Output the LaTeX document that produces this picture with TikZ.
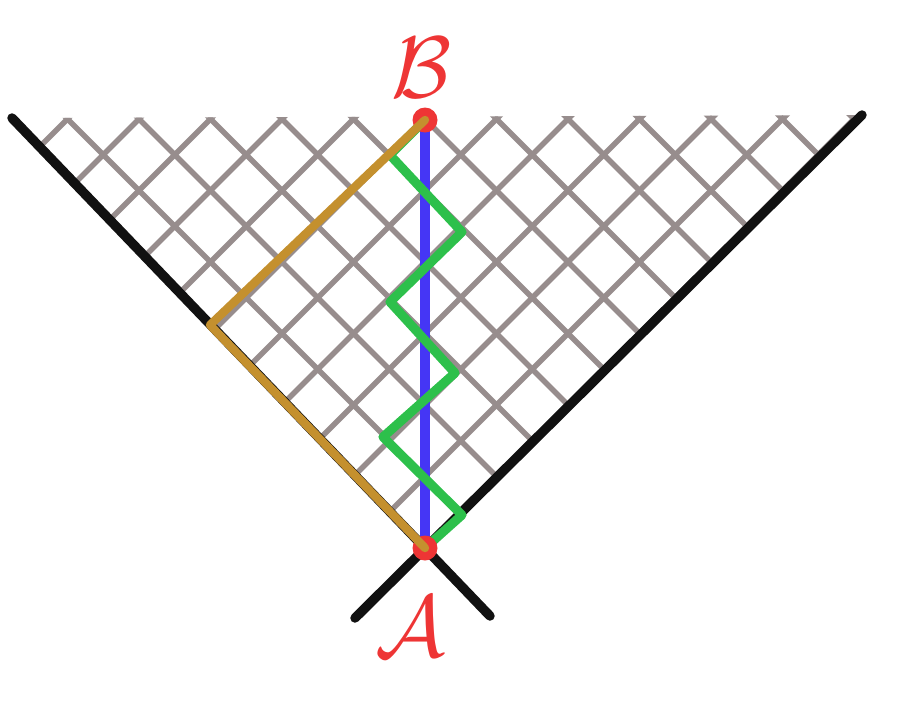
\documentclass[tikz,border=0pt]{standalone}
\definecolor{stone}{HTML}{978D8D}
\definecolor{ink}{HTML}{111111}
\definecolor{iris}{HTML}{4536F5}
\definecolor{leaf}{HTML}{2DC04B}
\definecolor{ochre}{HTML}{C4902E}
\definecolor{scarlet}{HTML}{EE3535}
\usepackage{tikz}

\begin{document}
\begin{tikzpicture}[scale=1.0,
    gridline/.style={stone,line width=1.6pt},
    coneline/.style={ink,line width=2.7pt,line cap=round},
    worldline/.style={line width=2.6pt,line cap=round,line join=round},
    event/.style={circle,fill=scarlet,inner sep=0pt,minimum size=0.25cm},
    tag/.style={scarlet,font=\fontsize{29}{31}\selectfont}]
        \useasboundingbox (0,0) rectangle (9,7);
        \coordinate (A) at (4.25,1.52);
        \coordinate (B) at (4.25,5.80);
        \coordinate (tl) at (0.12,5.82);
        \coordinate (tr) at (8.62,5.85);
        \coordinate (bl) at (3.55,0.82);
        \coordinate (br) at (4.90,0.84);
        \coordinate (turn) at (2.10,3.75);
        % light-like grid inside the cone
        \begin{scope}
          \clip (A) -- (tl) -- (tr) -- cycle;
          \foreach \k [evaluate=\k as \x using 4.25+\k*0.715] in {-13,...,13} {
            \draw[gridline] (\x-5,-3.48) -- (\x+5,6.52);
            \draw[gridline] (\x+5,-3.48) -- (\x-5,6.52);
          }
        \end{scope}
        \draw[coneline] (tl) -- (br);
        \draw[coneline] (tr) -- (bl);
        \draw[worldline,iris] (A) -- (B);
        \draw[worldline,leaf] (A) -- (4.62,1.85) coordinate (z1) -- (3.83,2.63) coordinate (z2)
          -- (4.55,3.27) coordinate (z3) -- (3.90,3.98) coordinate (z4)
          -- (4.62,4.68) coordinate (z5) -- (3.90,5.45) coordinate (z6) -- (B);
        \node[event] (eA) at (A) {};
        \node[event] (eB) at (B) {};
        \draw[worldline,ochre,line width=2.4pt] (A) -- (turn) -- (B);
        \node[tag] (labA) at (4.10,0.73) {$\mathcal{A}$};
        \node[tag] (labB) at (4.22,6.32) {$\mathcal{B}$};
      \end{tikzpicture}
\end{document}
